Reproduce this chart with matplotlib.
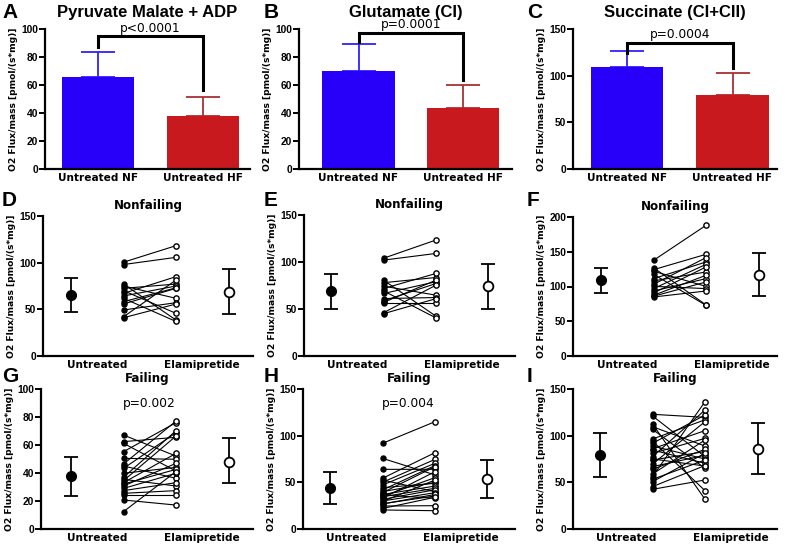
import matplotlib
matplotlib.use("Agg")
import matplotlib.pyplot as plt
import numpy as np

W, H = 787, 545

# ---- top row: bar charts (mean + SD) ----
bar_labels = ["Untreated NF", "Untreated HF"]
bar_titles = ["Pyruvate Malate + ADP", "Glutamate (CI)", "Succinate (CI+CII)"]
bar_means = [[65.7, 37.6], [70.2, 43.3], [109.6, 79.6]]
bar_sd = [[18.1, 13.6], [18.8, 16.7], [16.8, 22.9]]
bar_pvals = ["p<0.0001", "p=0.0001", "p=0.0004"]
bar_bracket = [[87.4, 95.0, 56.4], [91.0, 96.9, 63.6], [124.0, 134.7, 107.9]]
bar_ptext_y = [100.7, 103.0, 144.6]
bar_ymax = [100, 100, 150]
bar_yticks = [[0, 20, 40, 60, 80, 100], [0, 20, 40, 60, 80, 100], [0, 50, 100, 150]]

# ---- paired plots: untreated vs elamipretide ----
pair_titles = ["Nonfailing", "Nonfailing", "Nonfailing", "Failing", "Failing", "Failing"]
pair_ymax = [150, 150, 200, 100, 150, 150]
pair_yticks = [[0, 50, 100, 150], [0, 50, 100, 150], [0, 50, 100, 150, 200],
               [0, 20, 40, 60, 80, 100], [0, 50, 100, 150], [0, 50, 100, 150]]
pair_pvals = [None, None, None, "p=0.002", "p=0.004", None]
pair_ptext_y = [None, None, None, 90, 135, None]

d_untr = [100.5, 98, 77.1, 75, 72.5, 70, 67.1, 64.3, 61.8, 58.2, 55.7, 49.3, 42, 41]
d_elam = [118.2, 105.7, 38.5, 61.8, 77.1, 45.7, 85, 75, 37, 73, 72.5, 57.1, 81.4, 55.7]
e_untr = [104, 102, 80.7, 78, 74.3, 71.8, 69.3, 66.5, 61.1, 58.7, 57, 56.5, 46, 45]
e_elam = [123.4, 109.1, 42.3, 83.5, 64.7, 87.8, 40.5, 79, 62.2, 77.1, 80.7, 56.5, 75.4, 61]
f_untr = [137.6, 127.1, 124.2, 122, 117.5, 111.3, 108, 103.1, 100.2, 96.9, 93.5, 90.6, 87.3, 86, 84.9]
f_elam = [188, 73.5, 146.3, 100.2, 72.9, 135.3, 120.9, 141.5, 97, 131.9, 111.3, 128.1, 116.1, 106.5, 93.5]
g_untr = [67.1, 62.4, 61.2, 55.2, 50.5, 46.4, 45.0, 43.3, 39.8, 36.9, 35.5, 34.5, 33.1, 32.1,
          30.7, 29.0, 27.4, 25.5, 24.3, 20.7, 12.4]
g_elam = [52.1, 65.5, 41.4, 76.0, 49.8, 77.1, 36.2, 68.8, 44.0, 70.2, 30.7, 66.4, 54.0, 42.6,
          46.9, 39.8, 33.1, 27.4, 24.3, 17.1, 41.0]
h_untr = [91.8, 75.7, 63.9, 54.3, 52.5, 50.0, 47.1, 44.3, 41.8, 40.0, 38.9, 37.0, 36.4, 35.0,
          34.6, 33.0, 31.8, 30.0, 29.3, 27.0, 26.8, 24.6, 22.0, 20.4]
h_elam = [115, 57.9, 64.0, 81.8, 40.0, 74.6, 70.4, 48.9, 68.0, 50.0, 66.8, 46.0, 33.0, 55.0,
          43.6, 61.4, 42.0, 38.9, 52.5, 35.4, 37.0, 25.0, 34.0, 19.6]
i_untr = [122.9, 121.1, 112.5, 109.6, 106.8, 96.4, 94.3, 91.8, 88.9, 86.0, 84.6, 81.1, 77.5, 75.0,
          73.9, 69.6, 66.8, 63.9, 58.9, 56.1, 53.2, 50.7, 45.4, 42.5]
i_elam = [119.6, 77.5, 31.8, 88.9, 65.0, 117.0, 41.1, 122.1, 75.0, 105.4, 70.4, 97.1, 127.5, 67.5,
          83.0, 115.0, 79.0, 85.4, 95.4, 136.4, 73.9, 81.1, 68.0, 52.5]
pair_untr = [d_untr, e_untr, f_untr, g_untr, h_untr, i_untr]
pair_elam = [d_elam, e_elam, f_elam, g_elam, h_elam, i_elam]

# summary (mean, lower, upper) as drawn
untr_mean = [65.4, 69.3, 109.8, 37.9, 43.6, 79.3]
untr_lo = [46.8, 50.5, 91.1, 23.6, 26.4, 56.1]
untr_hi = [83.9, 87.1, 127.1, 51.7, 60.7, 103.2]
elam_mean = [69.0, 74.3, 116.1, 48.1, 53.6, 85.7]
elam_lo = [44.6, 50.5, 85.9, 32.6, 33.6, 58.6]
elam_hi = [93.2, 97.8, 148.7, 64.8, 73.9, 113.9]
pair_xlabels = ["Untreated", "Elamipretide"]

letters = ["A", "B", "C", "D", "E", "F", "G", "H", "I"]

BLUE = "#2800fa"
RED = "#c81a1e"
BLUE_ERR = "#3020ff"
RED_ERR = "#a83236"
ylab = "O2 Flux/mass [pmol/(s*mg)]"

fig = plt.figure(figsize=(W / 100, H / 100), dpi=100)


def px_axes(left, top, right, bottom):
    return fig.add_axes([left / W, 1 - bottom / H, (right - left) / W, (bottom - top) / H])


def style(ax, ymax, yticks, width_px):
    for s in ["top", "right"]:
        ax.spines[s].set_visible(False)
    for s in ["left", "bottom"]:
        ax.spines[s].set_linewidth(1.6)
    ax.set_ylim(0, ymax)
    ax.set_yticks(yticks)
    ax.tick_params(axis="y", length=4, width=1.4, pad=1, labelsize=7.4)
    ax.tick_params(axis="x", length=0, pad=3, labelsize=7.6)
    for t in ax.get_yticklabels():
        t.set_fontweight("bold")
        t.set_family("Liberation Sans")
    for t in ax.get_xticklabels():
        t.set_fontweight("bold")
    ax.set_ylabel(ylab, fontsize=6.6, fontweight="bold")
    ax.yaxis.set_label_coords(-27 / width_px, 0.5)


# top row boxes: left, top, right, bottom (px), bar centre offset, bar spacing
bar_boxes = [(45, 29, 250, 169, 53, 105), (299, 29, 512, 169, 59.5, 104.5),
             (573, 29, 777, 169, 54, 105.5)]
for k in range(3):
    l, t, r, b, c0, sp = bar_boxes[k]
    ax = px_axes(l, t, r, b)
    x = np.arange(2)
    ax.bar(x, bar_means[k], width=0.69, color=[BLUE, RED], edgecolor="none", zorder=2)
    for j, ec in enumerate([BLUE_ERR, RED_ERR]):
        ax.errorbar(x[j], bar_means[k][j], yerr=[[0], [bar_sd[k][j]]], ecolor=ec,
                    elinewidth=1.3, capsize=12.5, capthick=1.3, fmt="none", zorder=1)
    y1, ytop, y2 = bar_bracket[k]
    ax.plot([0, 0, 1, 1], [y1, ytop, ytop, y2], color="black", lw=2.2,
            solid_joinstyle="miter", clip_on=False, zorder=3)
    ax.text(0.5, bar_ptext_y[k], bar_pvals[k], ha="center", va="center", fontsize=8.8,
            family="DejaVu Sans", clip_on=False)
    ax.set_xlim(-c0 / sp, (r - l - c0) / sp)
    ax.set_xticks(x)
    ax.set_xticklabels(bar_labels)
    style(ax, bar_ymax[k], bar_yticks[k], r - l)
    ax.set_title(bar_titles[k], fontsize=12, fontweight="bold", family="Liberation Sans",
                 pad=9)

# paired boxes: left, top, right, bottom (px), first point offset
pair_boxes = [(43, 216, 253, 356, 28), (304, 215, 515, 356, 27), (573, 217, 777, 356, 28),
              (41, 389, 253, 529, 30), (303, 389, 515, 529, 27), (573, 389, 777, 529, 27)]
for k in range(6):
    l, t, r, b, c0 = pair_boxes[k]
    sp = 52.5
    ax = px_axes(l, t, r, b)
    u = pair_untr[k]
    e = pair_elam[k]
    for j in range(len(u)):
        ax.plot([1, 2], [u[j], e[j]], color="black", lw=0.8, zorder=2, clip_on=False)
    ax.plot(np.ones(len(u)), u, "o", ms=3.6, color="black", zorder=3, clip_on=False)
    ax.plot(np.full(len(e), 2.0), e, "o", ms=3.8, mfc="white", mec="black", mew=1.0,
            zorder=3, clip_on=False)
    ax.errorbar([0], [untr_mean[k]], yerr=[[untr_mean[k] - untr_lo[k]], [untr_hi[k] - untr_mean[k]]],
                fmt="o", ms=7, color="black", elinewidth=1.3, capsize=4.7, capthick=1.3,
                clip_on=False, zorder=3)
    ax.errorbar([3], [elam_mean[k]], yerr=[[elam_mean[k] - elam_lo[k]], [elam_hi[k] - elam_mean[k]]],
                fmt="o", ms=7, mfc="white", mec="black", mew=1.3, ecolor="black",
                elinewidth=1.3, capsize=4.7, capthick=1.3, clip_on=False, zorder=3)
    if pair_pvals[k]:
        ax.text(1.5, pair_ptext_y[k], pair_pvals[k], ha="center", va="center", fontsize=8.8,
                family="DejaVu Sans", clip_on=False)
    ax.set_xlim(-c0 / sp, (r - l - c0) / sp)
    ax.set_xticks([0.5, 2.5])
    ax.set_xticklabels(pair_xlabels)
    style(ax, pair_ymax[k], pair_yticks[k], r - l)
    ax.set_title(pair_titles[k], fontsize=8.6, fontweight="bold", pad=5)

# panel letters
letter_pos = [(2, 13), (264, 13), (527, 13), (2, 201), (264, 201), (527, 201),
              (2, 377), (264, 377), (527, 377)]
for k in range(9):
    fig.text(letter_pos[k][0] / W, 1 - letter_pos[k][1] / H, letters[k], fontsize=15,
             fontweight="bold", family="Liberation Sans", ha="left", va="center")

fig.savefig("out.png", dpi=100)
